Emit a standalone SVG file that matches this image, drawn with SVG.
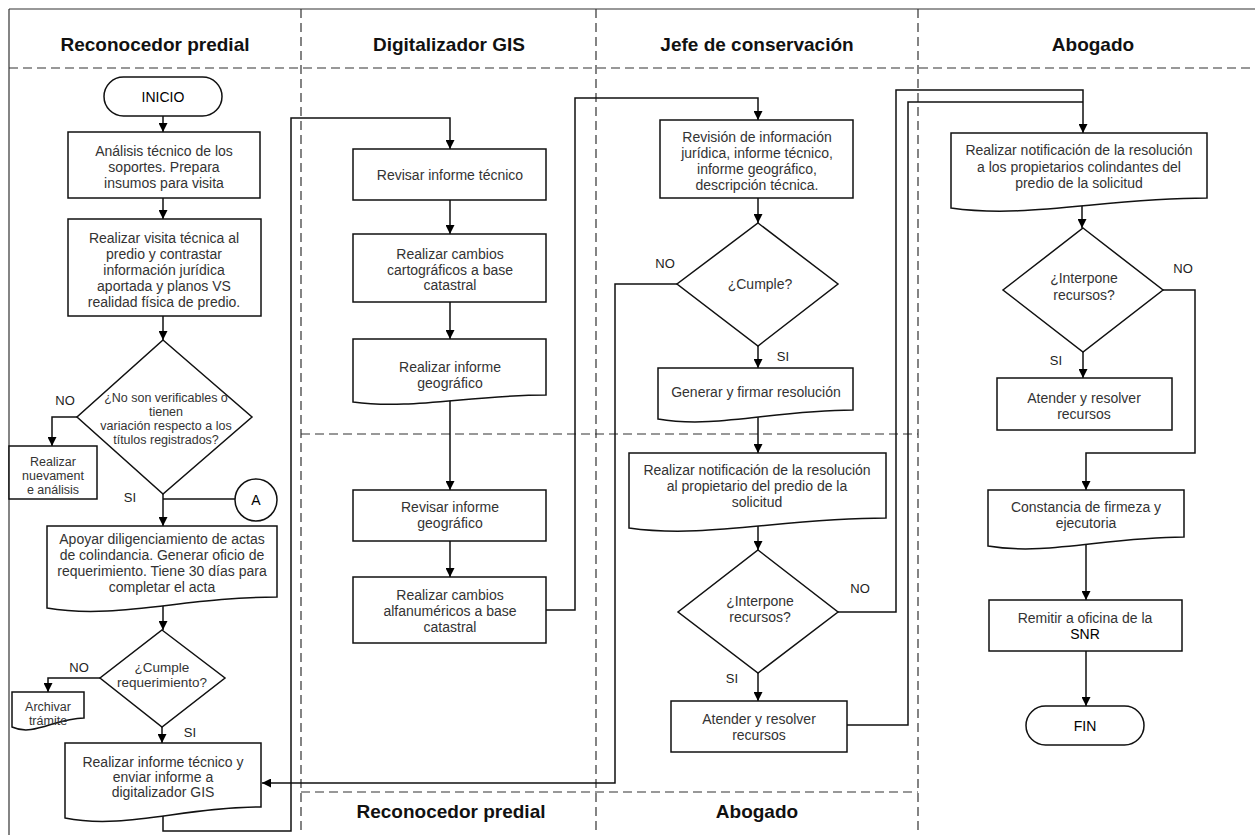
<svg xmlns="http://www.w3.org/2000/svg" width="1255" height="835" viewBox="0 0 1255 835">
<style>
.lane{stroke:#333;stroke-width:1.2;fill:none}
.dash{stroke:#333;stroke-width:1.2;fill:none;stroke-dasharray:9 5}
.title{font-family:"Liberation Sans",Arial,sans-serif;font-size:19px;font-weight:bold;fill:#111;text-anchor:middle}
.node{fill:#fff;stroke:#111;stroke-width:1.5}
.t{font-family:"Liberation Sans",Arial,sans-serif;font-size:14px;fill:#333;text-anchor:middle}
.s{font-family:"Liberation Sans",Arial,sans-serif;font-size:12.5px;fill:#333;text-anchor:middle}
.m{font-family:"Liberation Sans",Arial,sans-serif;font-size:13.5px;fill:#333;text-anchor:middle}
.k{font-family:"Liberation Sans",Arial,sans-serif;font-size:14px;fill:#000;text-anchor:middle}
.lbl{font-family:"Liberation Sans",Arial,sans-serif;font-size:13px;fill:#222;text-anchor:middle}
.c{fill:none;stroke:#111;stroke-width:1.5}
.a{marker-end:url(#arr)}
</style>
<defs>
<marker id="arr" viewBox="0 0 10 10" refX="10" refY="5" markerWidth="9" markerHeight="9" markerUnits="userSpaceOnUse" orient="auto">
<path d="M0,0 L10,5 L0,10 z" fill="#000"/>
</marker>
</defs>
<rect width="1255" height="835" fill="#fff"/>
<g id="lanes">
<line class="lane" x1="9" y1="9" x2="1255" y2="9"/>
<line class="lane" x1="9" y1="9" x2="9" y2="835"/>
<line class="dash" x1="9" y1="68" x2="1255" y2="68"/>
<line class="dash" x1="301" y1="9" x2="301" y2="835"/>
<line class="dash" x1="596" y1="9" x2="596" y2="835"/>
<line class="dash" x1="918" y1="9" x2="918" y2="835"/>
<line class="dash" x1="301" y1="434" x2="918" y2="434"/>
<line class="dash" x1="301" y1="792" x2="918" y2="792"/>
<text class="title" x="155" y="51">Reconocedor predial</text>
<text class="title" x="449" y="51">Digitalizador GIS</text>
<text class="title" x="757" y="51">Jefe de conservación</text>
<text class="title" x="1093" y="51">Abogado</text>
<text class="title" x="451" y="818">Reconocedor predial</text>
<text class="title" x="757" y="818">Abogado</text>
</g>
<g id="connectors">
<path class="c a" d="M163,116 V132"/>
<path class="c a" d="M163,198 V219"/>
<path class="c a" d="M163,316 V340"/>
<path class="c a" d="M77,417 H52 V446"/>
<path class="c a" d="M163,494 V526"/>
<path class="c" d="M163,499 H235"/>
<path class="c a" d="M163,604 V630"/>
<path class="c a" d="M100,678 H48 V692"/>
<path class="c a" d="M162,727 V743"/>
<path class="c a" d="M163,812 V831 H291 V118 H450 V149"/>
<path class="c a" d="M450,200 V234"/>
<path class="c a" d="M450,302 V339"/>
<path class="c a" d="M450,398 V490"/>
<path class="c a" d="M450,541 V577"/>
<path class="c a" d="M546,610 H575 V98 H758 V120"/>
<path class="c a" d="M758,198 V223"/>
<path class="c a" d="M677,284 H615 V783 H262"/>
<path class="c a" d="M758,346 V368"/>
<path class="c a" d="M758,415 V453"/>
<path class="c a" d="M758,523 V550"/>
<path class="c a" d="M838,612 H896 V90 H1083 V133"/>
<path class="c a" d="M758,673 V701"/>
<path class="c" d="M847,725 H908 V102 H1083"/>
<path class="c a" d="M1082,203 V228"/>
<path class="c a" d="M1163,290 H1195 V453 H1086 V490"/>
<path class="c a" d="M1083,352 V378"/>
<path class="c a" d="M1086,541 V600"/>
<path class="c a" d="M1086,651 V706"/>
<text class="lbl" x="65" y="405">NO</text>
<text class="lbl" x="130" y="502">SI</text>
<text class="lbl" x="79" y="672">NO</text>
<text class="lbl" x="190" y="737">SI</text>
<text class="lbl" x="665" y="268">NO</text>
<text class="lbl" x="783" y="361">SI</text>
<text class="lbl" x="860" y="593">NO</text>
<text class="lbl" x="732" y="683">SI</text>
<text class="lbl" x="1183" y="273">NO</text>
<text class="lbl" x="1056" y="365">SI</text>
</g>
<g id="inicio">
<rect class="node" x="104" y="77" width="118" height="39" rx="19.5"/>
<text class="k" x="163" y="102">INICIO</text>
</g>
<g id="analisis">
<rect class="node" x="68" y="132" width="192" height="66"/>
<text class="t" x="164" y="156">Análisis técnico de los</text>
<text class="t" x="164" y="172">soportes. Prepara</text>
<text class="t" x="164" y="188">insumos para visita</text>
</g>
<g id="visita">
<rect class="node" x="68" y="219" width="193" height="97"/>
<text class="t" x="164" y="243">Realizar visita técnica al</text>
<text class="t" x="164" y="259">predio y contrastar</text>
<text class="t" x="164" y="275">información jurídica</text>
<text class="t" x="164" y="291">aportada y planos VS</text>
<text class="t" x="164" y="307">realidad física de predio.</text>
</g>
<g id="dec-verificables">
<polygon class="node" points="163,340 252,417 163,494 77,417"/>
<text class="s" x="166" y="402">¿No son verificables o</text>
<text class="s" x="166" y="416">tienen</text>
<text class="s" x="166" y="430">variación respecto a los</text>
<text class="s" x="166" y="444">títulos registrados?</text>
</g>
<g id="nuevamente">
<rect class="node" x="9" y="446" width="88" height="53"/>
<text class="s" x="53" y="466">Realizar</text>
<text class="s" x="53" y="480">nuevament</text>
<text class="s" x="53" y="494">e análisis</text>
</g>
<g id="conector-a">
<circle class="node" cx="256" cy="500" r="21"/>
<text class="k" x="256" y="505">A</text>
</g>
<g id="apoyar">
<path class="node" d="M47,526 H277 V597 C185,597 116,620 47,608 Z"/>
<text class="t" x="162" y="544">Apoyar diligenciamiento de actas</text>
<text class="t" x="162" y="560">de colindancia. Generar oficio de</text>
<text class="t" x="162" y="576">requerimiento. Tiene 30 días para</text>
<text class="t" x="162" y="592">completar el acta</text>
</g>
<g id="dec-requerimiento">
<polygon class="node" points="162,630 225,678 162,727 100,678"/>
<text class="m" x="162" y="672">¿Cumple</text>
<text class="m" x="162" y="687">requerimiento?</text>
</g>
<g id="archivar">
<path class="node" d="M12,692 H84 V718 C55,718 34,737 12,727 Z"/>
<text class="s" x="48" y="711">Archivar</text>
<text class="s" x="48" y="725">trámite</text>
</g>
<g id="informe-tecnico">
<path class="node" d="M65,743 H261 V807 C183,807 124,830 65,818 Z"/>
<text class="t" x="163" y="767">Realizar informe técnico y</text>
<text class="t" x="163" y="782">enviar informe a</text>
<text class="t" x="163" y="797">digitalizador GIS</text>
</g>
<g id="revisar-tecnico">
<rect class="node" x="353" y="149" width="193" height="51"/>
<text class="t" x="450" y="180">Revisar informe técnico</text>
</g>
<g id="cambios-cartograficos">
<rect class="node" x="353" y="234" width="193" height="68"/>
<text class="t" x="450" y="259">Realizar cambios</text>
<text class="t" x="450" y="275">cartográficos a base</text>
<text class="t" x="450" y="290">catastral</text>
</g>
<g id="informe-geografico">
<path class="node" d="M353,339 H546 V395 C469,395 411,410 353,402 Z"/>
<text class="t" x="450" y="372">Realizar informe</text>
<text class="t" x="450" y="388">geográfico</text>
</g>
<g id="revisar-geografico">
<rect class="node" x="353" y="490" width="193" height="51"/>
<text class="t" x="450" y="512">Revisar informe</text>
<text class="t" x="450" y="528">geográfico</text>
</g>
<g id="cambios-alfanumericos">
<rect class="node" x="353" y="577" width="193" height="66"/>
<text class="t" x="450" y="600">Realizar cambios</text>
<text class="t" x="450" y="616">alfanuméricos a base</text>
<text class="t" x="450" y="632">catastral</text>
</g>
<g id="revision">
<rect class="node" x="660" y="120" width="193" height="78"/>
<text class="t" x="757" y="142">Revisión de información</text>
<text class="t" x="757" y="158">jurídica, informe técnico,</text>
<text class="t" x="757" y="174">informe geográfico,</text>
<text class="t" x="757" y="190">descripción técnica.</text>
</g>
<g id="dec-cumple">
<polygon class="node" points="758,223 838,284 758,346 677,284"/>
<text class="t" x="760" y="289">¿Cumple?</text>
</g>
<g id="generar">
<path class="node" d="M658,368 H853 V410 C775,410 716,429 658,419 Z"/>
<text class="t" x="756" y="397">Generar y firmar resolución</text>
</g>
<g id="notificacion-propietario">
<path class="node" d="M629,453 H886 V518 C783,518 706,539 629,528 Z"/>
<text class="t" x="757" y="475">Realizar notificación de la resolución</text>
<text class="t" x="757" y="491">al propietario del predio de la</text>
<text class="t" x="757" y="507">solicitud</text>
</g>
<g id="dec-interpone-1">
<polygon class="node" points="758,550 838,612 758,673 678,612"/>
<text class="t" x="760" y="606">¿Interpone</text>
<text class="t" x="760" y="622">recursos?</text>
</g>
<g id="atender-1">
<rect class="node" x="671" y="701" width="176" height="51"/>
<text class="t" x="759" y="724">Atender y resolver</text>
<text class="t" x="759" y="740">recursos</text>
</g>
<g id="notificacion-colindantes">
<path class="node" d="M951,133 H1207 V198 C1105,198 1028,219 951,208 Z"/>
<text class="t" x="1079" y="155">Realizar notificación de la resolución</text>
<text class="t" x="1079" y="172">a los propietarios colindantes del</text>
<text class="t" x="1079" y="188">predio de la solicitud</text>
</g>
<g id="dec-interpone-2">
<polygon class="node" points="1083,228 1163,290 1083,352 1003,290"/>
<text class="t" x="1084" y="283">¿Interpone</text>
<text class="t" x="1084" y="300">recursos?</text>
</g>
<g id="atender-2">
<rect class="node" x="997" y="378" width="175" height="52"/>
<text class="t" x="1084" y="403">Atender y resolver</text>
<text class="t" x="1084" y="419">recursos</text>
</g>
<g id="constancia">
<path class="node" d="M988,490 H1184 V537 C1106,537 1047,556 988,546 Z"/>
<text class="t" x="1086" y="512">Constancia de firmeza y</text>
<text class="t" x="1086" y="528">ejecutoria</text>
</g>
<g id="remitir">
<rect class="node" x="989" y="600" width="193" height="51"/>
<text class="t" x="1085" y="623">Remitir a oficina de la</text>
<text class="k" x="1085" y="639">SNR</text>
</g>
<g id="fin">
<rect class="node" x="1026" y="706" width="118" height="39" rx="19.5"/>
<text class="k" x="1085" y="731">FIN</text>
</g>
</svg>
